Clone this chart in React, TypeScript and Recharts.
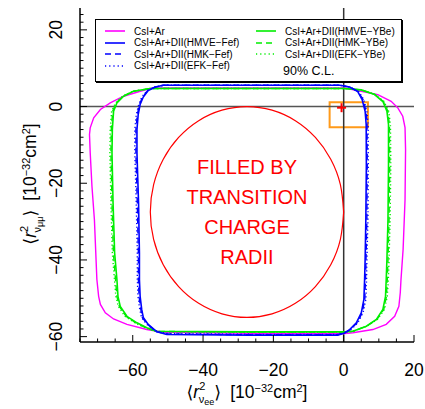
import React from 'react';
import {
  ComposedChart,
  Line,
  XAxis,
  YAxis,
  ReferenceLine,
  ReferenceArea,
  ReferenceDot,
} from 'recharts';

interface Pt {
  x: number;
  y: number;
}

// 90% C.L. contours, in units of 10^-32 cm^2
const csiAr: Pt[] = [
  { x: -54.2, y: 4.88 }, { x: -26.7, y: 4.88 }, { x: 0.3, y: 4.82 }, { x: 5.0, y: 3.99 },
  { x: 9.7, y: 3.13 }, { x: 13.5, y: 1.38 }, { x: 15.4, y: -0.34 }, { x: 16.8, y: -2.53 },
  { x: 17.45, y: -5.48 }, { x: 17.6, y: -11.2 }, { x: 17.45, y: -24.3 }, { x: 16.9, y: -37.3 },
  { x: 16.3, y: -45.1 }, { x: 16.1, y: -48.5 }, { x: 15.7, y: -52.1 }, { x: 14.5, y: -54.7 },
  { x: 12.1, y: -56.8 }, { x: 8.3, y: -58.15 }, { x: 2.6, y: -59.0 }, { x: 0.3, y: -59.2 },
  { x: -26.7, y: -59.1 }, { x: -51.3, y: -58.85 }, { x: -56.0, y: -58.15 }, { x: -61.65, y: -56.8 },
  { x: -65.45, y: -55.4 }, { x: -67.8, y: -53.8 }, { x: -69.2, y: -51.6 }, { x: -69.7, y: -49.5 },
  { x: -70.2, y: -45.1 }, { x: -70.9, y: -29.5 }, { x: -71.6, y: -20.8 }, { x: -72.1, y: -12.0 },
  { x: -72.3, y: -7.3 }, { x: -72.1, y: -5.55 }, { x: -71.1, y: -2.95 }, { x: -69.2, y: -0.78 },
  { x: -66.4, y: 0.96 }, { x: -62.6, y: 2.69 }, { x: -57.9, y: 3.99 }, { x: -54.2, y: 4.88 },
];

const hmveFef: Pt[] = [
  { x: -51.3, y: 5.55 }, { x: -26.7, y: 5.55 }, { x: -1.1, y: 5.55 }, { x: 1.7, y: 5.08 },
  { x: 4.0, y: 3.91 }, { x: 5.25, y: 1.83 }, { x: 6.1, y: -1.23 }, { x: 6.4, y: -4.69 },
  { x: 6.45, y: -15.1 }, { x: 6.3, y: -29.5 }, { x: 6.1, y: -39.9 }, { x: 5.95, y: -45.1 },
  { x: 5.75, y: -50.3 }, { x: 5.0, y: -53.8 }, { x: 3.6, y: -56.4 }, { x: 1.7, y: -58.15 },
  { x: 0.3, y: -59.05 }, { x: -1.7, y: -59.6 }, { x: -26.7, y: -59.6 }, { x: -50.3, y: -59.45 },
  { x: -53.1, y: -58.75 }, { x: -55.6, y: -56.8 }, { x: -57.0, y: -55.0 }, { x: -57.45, y: -52.9 },
  { x: -57.9, y: -49.5 }, { x: -58.1, y: -45.1 }, { x: -58.1, y: -38.2 }, { x: -58.35, y: -25.1 },
  { x: -58.8, y: -12.1 }, { x: -58.8, y: -6.0 }, { x: -58.45, y: -2.1 }, { x: -57.9, y: 0.52 },
  { x: -57.0, y: 2.48 }, { x: -55.6, y: 4.17 }, { x: -53.6, y: 5.08 }, { x: -51.3, y: 5.55 },
];

const hmkFef: Pt[] = [
  { x: -51.3, y: 5.55 }, { x: -1.1, y: 5.55 }, { x: 1.8, y: 5.08 }, { x: 4.1, y: 3.91 },
  { x: 5.5, y: 1.83 }, { x: 6.35, y: -1.23 }, { x: 6.65, y: -4.69 }, { x: 6.7, y: -15.1 },
  { x: 6.6, y: -29.5 }, { x: 6.35, y: -39.9 }, { x: 6.2, y: -45.1 }, { x: 6.0, y: -50.3 },
  { x: 5.25, y: -53.8 }, { x: 3.8, y: -56.4 }, { x: 1.85, y: -58.2 }, { x: 0.3, y: -59.0 },
  { x: -1.7, y: -59.5 }, { x: -26.7, y: -59.5 }, { x: -50.3, y: -59.3 }, { x: -53.3, y: -58.7 },
  { x: -55.8, y: -56.8 }, { x: -57.3, y: -55.0 }, { x: -57.7, y: -52.9 }, { x: -58.2, y: -49.5 },
  { x: -58.4, y: -45.1 }, { x: -58.4, y: -38.2 }, { x: -58.7, y: -25.1 }, { x: -59.1, y: -12.1 },
  { x: -59.1, y: -6.0 }, { x: -58.7, y: -2.1 }, { x: -58.1, y: 0.5 }, { x: -57.2, y: 2.5 },
  { x: -55.75, y: 4.17 }, { x: -53.7, y: 5.08 }, { x: -51.3, y: 5.55 },
];

const efkFef: Pt[] = [
  { x: -51.3, y: 5.55 }, { x: -1.1, y: 5.55 }, { x: 1.9, y: 5.08 }, { x: 4.3, y: 3.91 },
  { x: 5.7, y: 1.83 }, { x: 6.6, y: -1.23 }, { x: 6.95, y: -4.69 }, { x: 7.0, y: -15.1 },
  { x: 6.9, y: -29.5 }, { x: 6.6, y: -39.9 }, { x: 6.5, y: -45.1 }, { x: 6.3, y: -50.3 },
  { x: 5.5, y: -53.8 }, { x: 4.0, y: -56.4 }, { x: 2.0, y: -58.2 }, { x: 0.3, y: -59.0 },
  { x: -1.7, y: -59.4 }, { x: -26.7, y: -59.4 }, { x: -50.3, y: -59.2 }, { x: -53.4, y: -58.6 },
  { x: -56.0, y: -56.8 }, { x: -57.5, y: -55.0 }, { x: -58.0, y: -52.9 }, { x: -58.5, y: -49.5 },
  { x: -58.7, y: -45.1 }, { x: -58.7, y: -38.2 }, { x: -59.0, y: -25.1 }, { x: -59.4, y: -12.1 },
  { x: -59.4, y: -6.0 }, { x: -59.0, y: -2.1 }, { x: -58.3, y: 0.5 }, { x: -57.4, y: 2.5 },
  { x: -55.9, y: 4.17 }, { x: -53.8, y: 5.08 }, { x: -51.3, y: 5.55 },
];

const hmveYBe: Pt[] = [
  { x: -54.2, y: 4.69 }, { x: -26.7, y: 4.69 }, { x: 0.3, y: 4.69 }, { x: 5.0, y: 4.35 },
  { x: 8.8, y: 3.13 }, { x: 11.15, y: 1.3 }, { x: 12.3, y: -1.23 }, { x: 12.75, y: -4.69 },
  { x: 12.75, y: -15.1 }, { x: 12.6, y: -29.5 }, { x: 12.3, y: -39.9 }, { x: 12.1, y: -45.1 },
  { x: 11.9, y: -49.5 }, { x: 11.15, y: -52.9 }, { x: 9.3, y: -55.5 }, { x: 6.45, y: -57.3 },
  { x: 2.6, y: -58.6 }, { x: 0.3, y: -58.75 }, { x: -26.7, y: -58.75 }, { x: -53.1, y: -58.6 },
  { x: -56.0, y: -57.7 }, { x: -58.8, y: -56.4 }, { x: -61.65, y: -54.7 }, { x: -63.55, y: -52.1 },
  { x: -64.2, y: -49.5 }, { x: -64.5, y: -45.1 }, { x: -65.15, y: -38.2 }, { x: -65.6, y: -25.1 },
  { x: -65.9, y: -12.1 }, { x: -65.8, y: -6.0 }, { x: -65.45, y: -1.23 }, { x: -64.5, y: 0.96 },
  { x: -62.6, y: 2.69 }, { x: -59.8, y: 3.99 }, { x: -55.0, y: 4.69 }, { x: -54.2, y: 4.69 },
];

const hmkYBe: Pt[] = [
  { x: -54.2, y: 4.69 }, { x: 0.3, y: 4.69 }, { x: 5.05, y: 4.35 }, { x: 8.9, y: 3.13 },
  { x: 11.3, y: 1.3 }, { x: 12.55, y: -1.23 }, { x: 13.0, y: -4.69 }, { x: 13.1, y: -15.1 },
  { x: 12.9, y: -29.5 }, { x: 12.6, y: -39.9 }, { x: 12.4, y: -45.1 }, { x: 12.15, y: -49.5 },
  { x: 11.4, y: -52.9 }, { x: 9.45, y: -55.5 }, { x: 6.5, y: -57.3 }, { x: 2.65, y: -58.6 },
  { x: 0.3, y: -58.8 }, { x: -26.7, y: -58.8 }, { x: -53.2, y: -58.65 }, { x: -56.1, y: -57.75 },
  { x: -59.0, y: -56.45 }, { x: -61.9, y: -54.7 }, { x: -63.8, y: -52.1 }, { x: -64.5, y: -49.5 },
  { x: -64.9, y: -45.1 }, { x: -65.5, y: -38.2 }, { x: -65.9, y: -25.1 }, { x: -66.2, y: -12.1 },
  { x: -66.1, y: -6.0 }, { x: -65.7, y: -1.23 }, { x: -64.7, y: 0.96 }, { x: -62.75, y: 2.69 },
  { x: -59.85, y: 3.99 }, { x: -55.05, y: 4.69 }, { x: -54.2, y: 4.69 },
];

const efkYBe: Pt[] = [
  { x: -54.2, y: 4.69 }, { x: 0.3, y: 4.69 }, { x: 5.1, y: 4.35 }, { x: 9.0, y: 3.13 },
  { x: 11.5, y: 1.3 }, { x: 12.8, y: -1.23 }, { x: 13.3, y: -4.69 }, { x: 13.4, y: -15.1 },
  { x: 13.2, y: -29.5 }, { x: 12.9, y: -39.9 }, { x: 12.7, y: -45.1 }, { x: 12.4, y: -49.5 },
  { x: 11.6, y: -52.9 }, { x: 9.6, y: -55.5 }, { x: 6.6, y: -57.3 }, { x: 2.7, y: -58.6 },
  { x: 0.3, y: -58.9 }, { x: -26.7, y: -58.9 }, { x: -53.3, y: -58.7 }, { x: -56.2, y: -57.8 },
  { x: -59.2, y: -56.5 }, { x: -62.2, y: -54.7 }, { x: -64.1, y: -52.1 }, { x: -64.8, y: -49.5 },
  { x: -65.2, y: -45.1 }, { x: -65.8, y: -38.2 }, { x: -66.2, y: -25.1 }, { x: -66.5, y: -12.1 },
  { x: -66.4, y: -6.0 }, { x: -66.0, y: -1.23 }, { x: -64.9, y: 0.96 }, { x: -62.9, y: 2.69 },
  { x: -59.9, y: 3.99 }, { x: -55.1, y: 4.69 }, { x: -54.2, y: 4.69 },
];

// transition charge radii region (circle through the origin axes)
const filledCircle: Pt[] = [
  { x: 0, y: -27.5 }, { x: -0.94, y: -20.38 }, { x: -3.68, y: -13.75 }, { x: -8.05, y: -8.05 },
  { x: -13.75, y: -3.68 }, { x: -20.38, y: -0.94 }, { x: -27.5, y: 0 }, { x: -34.62, y: -0.94 },
  { x: -41.25, y: -3.68 }, { x: -46.95, y: -8.05 }, { x: -51.32, y: -13.75 }, { x: -54.06, y: -20.38 },
  { x: -55, y: -27.5 }, { x: -54.06, y: -34.62 }, { x: -51.32, y: -41.25 }, { x: -46.95, y: -46.95 },
  { x: -41.25, y: -51.32 }, { x: -34.62, y: -54.06 }, { x: -27.5, y: -55 }, { x: -20.38, y: -54.06 },
  { x: -13.75, y: -51.32 }, { x: -8.05, y: -46.95 }, { x: -3.68, y: -41.25 }, { x: -0.94, y: -34.62 },
  { x: 0, y: -27.5 },
];

const circleCenter = { x: -27.5, y: -27.5 };
const circleText = ['FILLED BY', 'TRANSITION', 'CHARGE', 'RADII'];
const bestFit = { x: -0.6, y: -0.3 };
const orangeBox = { x1: -4.0, x2: 6.9, y1: -5.4, y2: 1.1 };

const xDomain = [-75, 20];
const yDomain = [-61.4, 25.7];
const xTicks = [-75, -70, -65, -60, -55, -50, -45, -40, -35, -30, -25, -20, -15, -10, -5, 0, 5, 10, 15, 20];
const yTicks = [
  -60, -58, -56, -54, -52, -50, -48, -46, -44, -42, -40, -38, -36, -34, -32, -30, -28, -26, -24, -22,
  -20, -18, -16, -14, -12, -10, -8, -6, -4, -2, 0, 2, 4, 6, 8, 10, 12, 14, 16, 18, 20, 22, 24,
];

const FONT = '"Liberation Sans", Arial, Helvetica, sans-serif';
const MAJOR = 7;
const MINOR = 3.5;

const fmt = (v: number) => (v < 0 ? `\u2212${Math.abs(v)}` : `${v}`);

const BottomTick = (props: any) => {
  const { x, y, payload } = props;
  const major = payload.value % 20 === 0;
  return (
    <g>
      <line x1={x} y1={y} x2={x} y2={y - (major ? MAJOR : MINOR)} stroke="#000" strokeWidth={1} />
      {major && (
        <text x={x} y={y + 34} textAnchor="middle" fontSize={17.5} fontFamily={FONT} fill="#000">
          {fmt(payload.value)}
        </text>
      )}
    </g>
  );
};

const TopTick = (props: any) => {
  const { x, y, payload } = props;
  const major = payload.value % 20 === 0;
  return <line x1={x} y1={y} x2={x} y2={y + (major ? MAJOR : MINOR)} stroke="#000" strokeWidth={1} />;
};

const LeftTick = (props: any) => {
  const { x, y, payload } = props;
  const major = payload.value % 20 === 0;
  const lx = x - 24;
  return (
    <g>
      <line x1={x} y1={y} x2={x + (major ? MAJOR : MINOR)} y2={y} stroke="#000" strokeWidth={1} />
      {major && (
        <text
          x={lx}
          y={y}
          transform={`rotate(-90 ${lx} ${y})`}
          textAnchor="middle"
          dominantBaseline="central"
          fontSize={17.5}
          fontFamily={FONT}
          fill="#000"
        >
          {fmt(payload.value)}
        </text>
      )}
    </g>
  );
};

const RightTick = (props: any) => {
  const { x, y, payload } = props;
  const major = payload.value % 20 === 0;
  return <line x1={x} y1={y} x2={x - (major ? MAJOR : MINOR)} y2={y} stroke="#000" strokeWidth={1} />;
};

// <r^2_{nu_xx}> [10^-32 cm^2]
const AxisTitle = ({ x, y, sub, rotate }: { x: number; y: number; sub: string; rotate?: boolean }) => (
  <text
    x={x}
    y={y}
    textAnchor="middle"
    fontSize={17.5}
    fontFamily={FONT}
    fill="#000"
    transform={rotate ? `rotate(-90 ${x} ${y})` : undefined}
  >
    <tspan fontFamily='"DejaVu Sans", sans-serif'>{'\u27e8'}</tspan>
    <tspan fontStyle="italic">r</tspan>
    <tspan fontSize={11} dy={-8}>2</tspan>
    <tspan fontSize={11} dx={-6.5} dy={13}>{'\u03bd'}</tspan>
    <tspan fontSize={9} dy={2}>{sub}</tspan>
    <tspan fontFamily='"DejaVu Sans", sans-serif' dy={-7}>{'\u27e9'}</tspan>
    <tspan dx={9}>[10</tspan>
    <tspan fontSize={11} dy={-6}>{'\u221232'}</tspan>
    <tspan dy={6}>cm</tspan>
    <tspan fontSize={11} dy={-6}>2</tspan>
    <tspan dy={6}>]</tspan>
  </text>
);

const CircleLabel = (props: any) => {
  const { cx, cy } = props;
  return (
    <text textAnchor="middle" fontSize={20} fontFamily={FONT} fill="#ff0000">
      {circleText.map((t, i) => (
        <tspan key={t} x={cx} y={cy - 45 + i * 30 + 7}>
          {t}
        </tspan>
      ))}
    </text>
  );
};

const Cross = (props: any) => {
  const { cx, cy } = props;
  return (
    <g stroke="#ff0000" strokeWidth={2}>
      <line x1={cx - 4.5} y1={cy} x2={cx + 4.5} y2={cy} />
      <line x1={cx} y1={cy - 4.5} x2={cx} y2={cy + 4.5} />
    </g>
  );
};

interface LegendItem {
  name: string;
  color: string;
  dash?: string;
}

const legendLeft: LegendItem[] = [
  { name: 'CsI+Ar', color: '#ff00ff' },
  { name: 'CsI+Ar+DII(HMVE\u2212Fef)', color: '#0000ff' },
  { name: 'CsI+Ar+DII(HMK\u2212Fef)', color: '#0000ff', dash: '6 4' },
  { name: 'CsI+Ar+DII(EFK\u2212Fef)', color: '#0000ff', dash: '1.2 3' },
];
const legendRight: LegendItem[] = [
  { name: 'CsI+Ar+DII(HMVE\u2212YBe)', color: '#00ee00' },
  { name: 'CsI+Ar+DII(HMK\u2212YBe)', color: '#00ee00', dash: '6 4' },
  { name: 'CsI+Ar+DII(EFK\u2212YBe)', color: '#00ee00', dash: '1.2 3' },
];

const LegendRow = ({ item, left, top }: { item: LegendItem; left: number; top: number }) => (
  <div style={{ position: 'absolute', left, top: top - 7, height: 14, display: 'flex', alignItems: 'center' }}>
    <svg width={22} height={14} style={{ display: 'block' }}>
      <line x1={1} y1={7} x2={21} y2={7} stroke={item.color} strokeWidth={1.6} strokeDasharray={item.dash} />
    </svg>
    <span style={{ marginLeft: 8, whiteSpace: 'nowrap' }}>{item.name}</span>
  </div>
);

const ChartLegend = () => (
  <div
    style={{
      position: 'absolute',
      left: 95,
      top: 19,
      width: 305,
      height: 61,
      border: '1px solid #000',
      boxShadow: '1px 1px 0 #000',
      background: '#fff',
      fontFamily: FONT,
      fontSize: 10,
      color: '#000',
    }}
  >
    {legendLeft.map((item, i) => (
      <LegendRow key={item.name} item={item} left={8} top={11 + i * 11.6} />
    ))}
    {legendRight.map((item, i) => (
      <LegendRow key={item.name} item={item} left={159} top={11 + i * 11.6} />
    ))}
    <div style={{ position: 'absolute', left: 187, top: 44, fontSize: 12.5, whiteSpace: 'nowrap' }}>90% C.L.</div>
  </div>
);

const contourLine = (data: Pt[], color: string, dash?: string, width = 1.6, curve: any = 'linear') => (
  <Line
    data={data}
    dataKey="y"
    type={curve}
    stroke={color}
    strokeWidth={width}
    strokeDasharray={dash}
    dot={false}
    activeDot={false}
    isAnimationActive={false}
    legendType="none"
  />
);

const App: React.FC = () => {
  return (
    <div style={{ position: 'absolute', left: 0, top: 0, width: 425, height: 409, background: '#fff' }}>
      <ComposedChart width={425} height={409} margin={{ top: 8, right: 11, bottom: 0, left: 0 }}>
        <XAxis
          dataKey="x"
          type="number"
          domain={xDomain}
          ticks={xTicks}
          interval={0}
          allowDataOverflow
          height={67}
          tickSize={0}
          tickMargin={0}
          tickLine={false}
          tick={<BottomTick />}
          axisLine={{ stroke: '#000', strokeWidth: 1.5 }}
          label={{ content: () => <AxisTitle x={247} y={398} sub="ee" /> }}
        />
        <XAxis
          xAxisId="top"
          orientation="top"
          dataKey="x"
          type="number"
          domain={xDomain}
          ticks={xTicks}
          interval={0}
          allowDataOverflow
          height={0}
          tickSize={0}
          tickMargin={0}
          tickLine={false}
          tick={<TopTick />}
          axisLine={{ stroke: '#000', strokeWidth: 1.5 }}
        />
        <YAxis
          type="number"
          domain={yDomain}
          ticks={yTicks}
          interval={0}
          allowDataOverflow
          width={80}
          tickSize={0}
          tickMargin={0}
          tickLine={false}
          tick={<LeftTick />}
          axisLine={{ stroke: '#000', strokeWidth: 1.5 }}
          label={{ content: () => <AxisTitle x={36} y={184} sub={'\u03bc\u03bc'} rotate /> }}
        />
        <YAxis
          yAxisId="right"
          orientation="right"
          type="number"
          domain={yDomain}
          ticks={yTicks}
          interval={0}
          allowDataOverflow
          width={0}
          tickSize={0}
          tickMargin={0}
          tickLine={false}
          tick={<RightTick />}
          axisLine={{ stroke: '#000', strokeWidth: 1.5 }}
        />

        <ReferenceLine x={0} stroke="#333" strokeWidth={1.5} />
        <ReferenceLine y={0} stroke="#555" strokeWidth={1.5} />

        {contourLine(csiAr, '#ff00ff', undefined, 1.4)}
        {contourLine(efkYBe, '#00ee00', '1.2 2.5', 1.4)}
        {contourLine(hmkYBe, '#00ee00', '6 4', 1.4)}
        {contourLine(hmveYBe, '#00ee00')}
        {contourLine(efkFef, '#0000ff', '1.2 2.5', 1.4)}
        {contourLine(hmkFef, '#0000ff', '6 4', 1.4)}
        {contourLine(hmveFef, '#0000ff')}
        {contourLine(filledCircle, '#ff0000', undefined, 1.2, 'natural')}

        <ReferenceArea
          x1={orangeBox.x1}
          x2={orangeBox.x2}
          y1={orangeBox.y1}
          y2={orangeBox.y2}
          fill="none"
          fillOpacity={0}
          stroke="#ff9a1a"
          strokeWidth={2}
        />
        <ReferenceDot x={bestFit.x} y={bestFit.y} r={5} shape={<Cross />} />
        <ReferenceDot x={circleCenter.x} y={circleCenter.y} r={0} shape={<CircleLabel />} />
      </ComposedChart>
      <ChartLegend />
    </div>
  );
};

export default App;
